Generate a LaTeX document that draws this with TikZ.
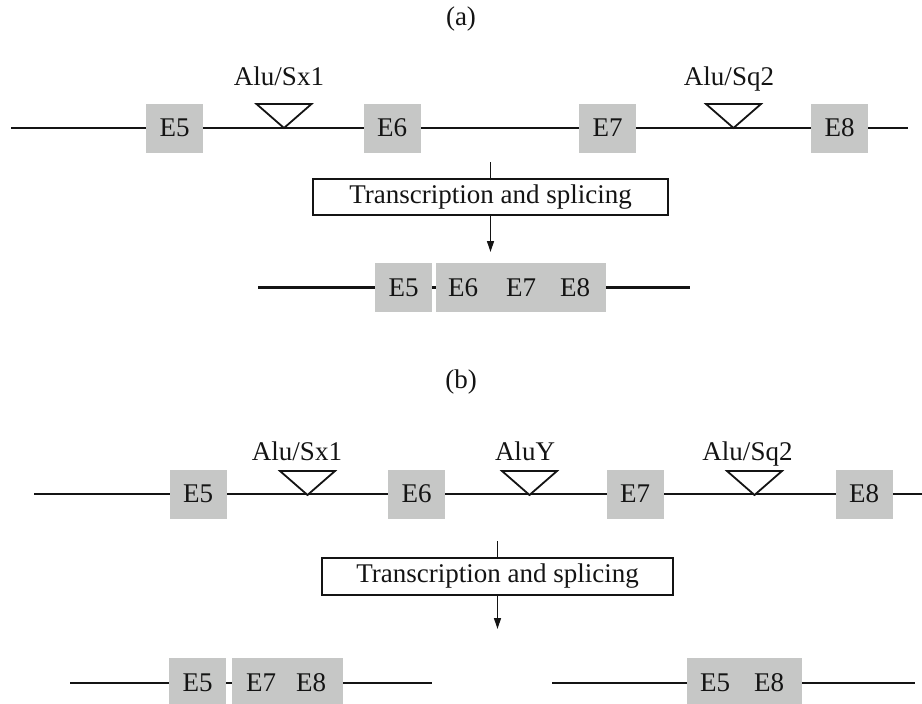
\documentclass[tikz,border=0pt]{standalone}
\usepackage{fontspec}
\setmainfont{Liberation Serif}
\usetikzlibrary{arrows.meta}
\definecolor{exon}{RGB}{198,199,198}
\definecolor{ink}{RGB}{20,20,20}
\tikzset{
  exonbox/.style={fill=exon, draw=none, minimum width=57pt, minimum height=49pt, inner sep=0pt, text=ink},
  exonlong/.style={fill=exon, draw=none, minimum height=49pt, inner sep=0pt},
  lbl/.style={text=ink, inner sep=0pt},
  gene/.style={draw=ink, line width=2.2pt},
  alu/.style={draw=ink, line width=1.8pt, fill=white, line join=miter},
  procbox/.style={draw=ink, line width=1.3pt, fill=white, inner sep=0pt, text=ink},
  conn/.style={draw=ink, line width=1.3pt},
  arr/.style={draw=ink, line width=1.3pt, -{Triangle[length=11pt,width=7pt]}}
}
\begin{document}
\begin{tikzpicture}[x=1pt,y=-1pt, font=\fontsize{27}{31}\selectfont]
\useasboundingbox (0,0) rectangle (922,704);
% ---------- panel (a) ----------
\node[lbl] (ta) at (461,19) {(a)};
\coordinate (aL) at (11,128);
\coordinate (aR) at (908,128);
\draw[gene] (aL) -- (aR);
\node[exonbox] (a5) at (174.5,128) {E5};
\node[exonbox] (a6) at (392,128) {E6};
\node[exonbox] (a7) at (607.5,128) {E7};
\node[exonbox] (a8) at (839.5,128) {E8};
\draw[alu] (256.5,104) -- (311.5,104) -- (284,128) -- cycle;
\draw[alu] (706,104) -- (761,104) -- (733.5,128) -- cycle;
\node[lbl, anchor=base] (alsx) at (279,85) {Alu/Sx1};
\node[lbl, anchor=base] (alsq) at (729,85) {Alu/Sq2};
\coordinate (atop) at (490.5,162);
\node[procbox, minimum width=355pt, minimum height=36pt] (pa) at (490.5,197) {Transcription and splicing};
\coordinate (aend) at (490.5,252);
\draw[conn] (atop) -- (pa.north);
\draw[arr] (pa.south) -- (aend);
\coordinate (mL) at (258,287.5);
\coordinate (mR) at (690,287.5);
\draw[gene] (mL) -- (mR);
\node[exonbox] (ma5) at (403.5,287.5) {E5};
\node[exonlong, minimum width=170pt] (mab) at (521,287.5) {};
\node[lbl] (ma6) at (463,287.5) {E6};
\node[lbl] (ma7) at (521,287.5) {E7};
\node[lbl] (ma8) at (575,287.5) {E8};
% ---------- panel (b) ----------
\node[lbl] (tb) at (461,382) {(b)};
\coordinate (bL) at (34,494);
\coordinate (bR) at (922,494);
\draw[gene] (bL) -- (bR);
\node[exonbox] (b5) at (198,494) {E5};
\node[exonbox] (b6) at (416.5,494) {E6};
\node[exonbox] (b7) at (635,494) {E7};
\node[exonbox] (b8) at (864,494) {E8};
\draw[alu] (280,471) -- (335,471) -- (307.5,495) -- cycle;
\draw[alu] (502,471) -- (557,471) -- (529.5,495) -- cycle;
\draw[alu] (727,471) -- (782,471) -- (754.5,495) -- cycle;
\node[lbl, anchor=base] (blsx) at (297,460) {Alu/Sx1};
\node[lbl, anchor=base] (bly) at (525,460) {AluY};
\node[lbl, anchor=base] (blsq) at (747.5,460) {Alu/Sq2};
\coordinate (btop) at (497.5,541);
\node[procbox, minimum width=351pt, minimum height=37pt] (pb) at (497.5,576.5) {Transcription and splicing};
\coordinate (bend) at (497.5,629);
\draw[conn] (btop) -- (pb.north);
\draw[arr] (pb.south) -- (bend);
% left isoform
\coordinate (lL) at (70,683);
\coordinate (lR) at (432,683);
\draw[gene] (lL) -- (lR);
\node[exonlong, minimum width=57pt, minimum height=46pt] (l5) at (197.5,681) {};
\node[lbl] (l5t) at (197.5,683) {E5};
\node[exonlong, minimum width=111pt, minimum height=46pt] (l78) at (287.5,681) {};
\node[lbl] (l7) at (261,683) {E7};
\node[lbl] (l8) at (311,683) {E8};
% right isoform
\coordinate (rL) at (552,683);
\coordinate (rR) at (915,683);
\draw[gene] (rL) -- (rR);
\node[exonlong, minimum width=115pt, minimum height=46pt] (r58) at (744.5,681) {};
\node[lbl] (r5) at (715,683) {E5};
\node[lbl] (r8) at (769,683) {E8};
\end{tikzpicture}
\end{document}
